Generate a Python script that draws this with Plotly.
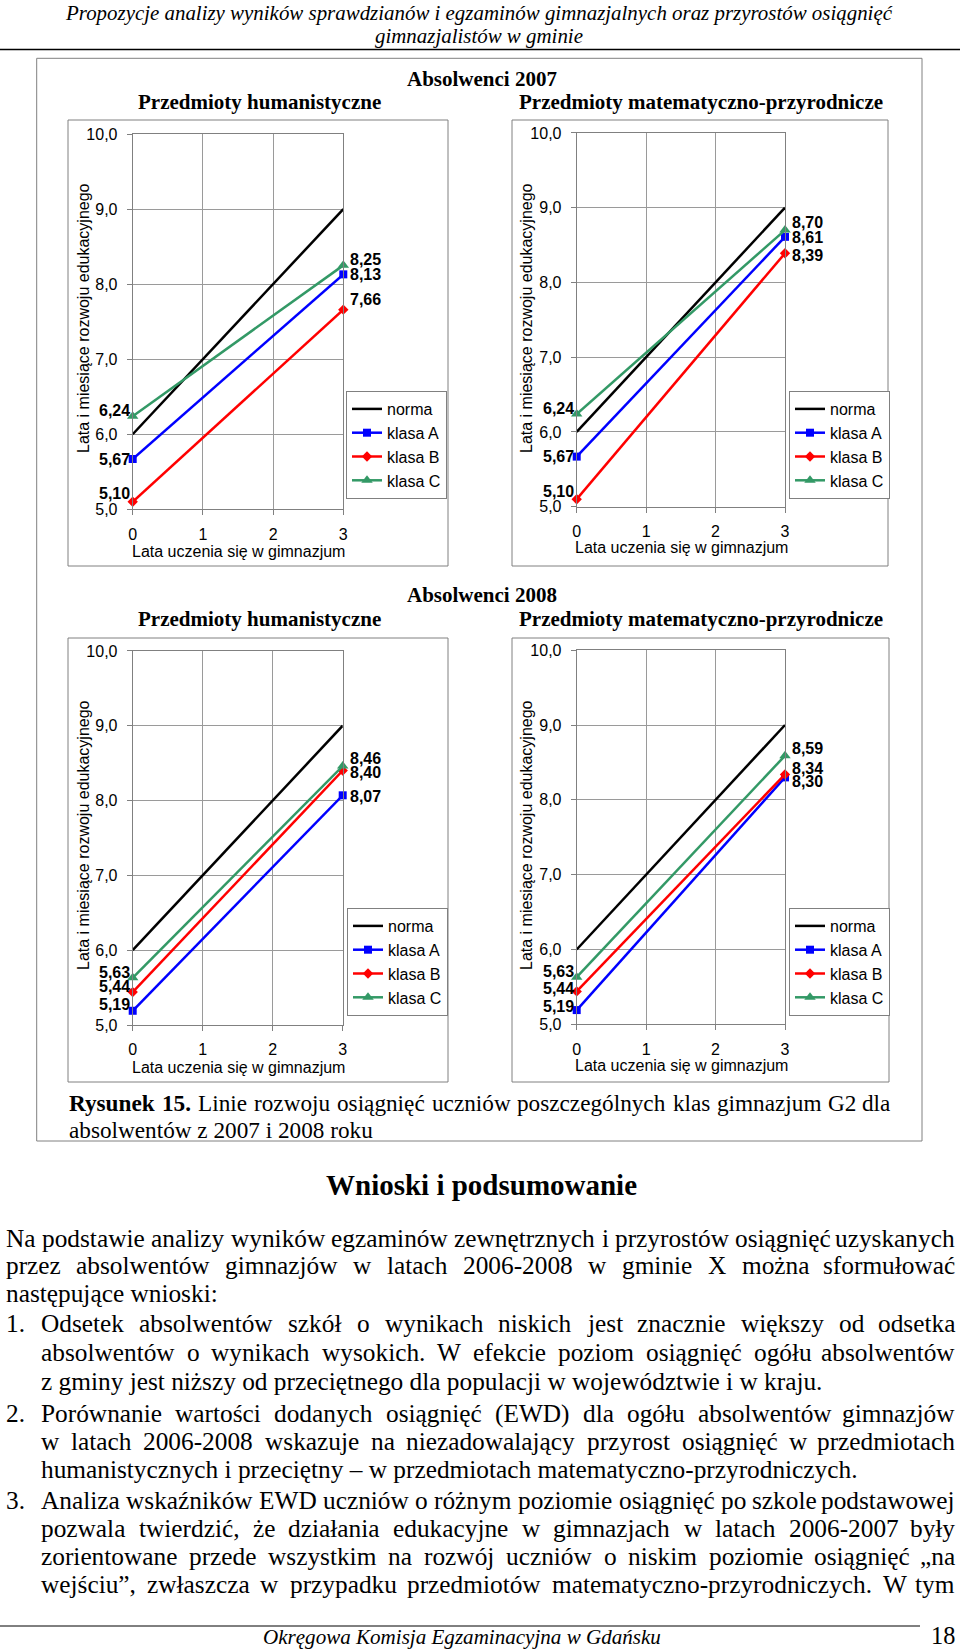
import plotly.graph_objects as go

W, H = 960, 1650
SANS = "Liberation Sans, Arial, sans-serif"
SERIF = "Liberation Serif, Times New Roman, serif"

# ---------------- data ----------------
years = [0, 3]
year_ticks = [0, 1, 2, 3]
series = ["norma", "klasa A", "klasa B", "klasa C"]
norma = [6.0, 9.0]
hum07_A = [5.67, 8.13]
hum07_B = [5.10, 7.66]
hum07_C = [6.24, 8.25]
mat07_A = [5.67, 8.61]
mat07_B = [5.10, 8.39]
mat07_C = [6.24, 8.70]
hum08_A = [5.19, 8.07]
hum08_B = [5.44, 8.40]
hum08_C = [5.63, 8.46]
mat08_A = [5.19, 8.30]
mat08_B = [5.44, 8.34]
mat08_C = [5.63, 8.59]

header_lines = ["Propozycje analizy wyników sprawdzianów i egzaminów gimnazjalnych oraz przyrostów osiągnięć",
                "gimnazjalistów w gminie"]
caption_words = ["Rysunek", "15.", "Linie", "rozwoju", "osiągnięć", "uczniów", "poszczególnych",
                 "klas", "gimnazjum", "G2", "dla"]
caption_line2 = "absolwentów z 2007 i 2008 roku"
body = [
    ("", "Na podstawie analizy wyników egzaminów zewnętrznych i przyrostów osiągnięć uzyskanych", True),
    ("", "przez absolwentów gimnazjów w latach 2006-2008 w gminie X można sformułować", True),
    ("", "następujące wnioski:", False),
    ("1.", "Odsetek absolwentów szkół o wynikach niskich jest znacznie większy od odsetka", True),
    ("", "absolwentów o wynikach wysokich. W efekcie poziom osiągnięć ogółu absolwentów", True),
    ("", "z gminy jest niższy od przeciętnego dla populacji w województwie i w kraju.", False),
    ("2.", "Porównanie wartości dodanych osiągnięć (EWD) dla ogółu absolwentów gimnazjów", True),
    ("", "w latach 2006-2008 wskazuje na niezadowalający przyrost osiągnięć w przedmiotach", True),
    ("", "humanistycznych i przeciętny – w przedmiotach matematyczno-przyrodniczych.", False),
    ("3.", "Analiza wskaźników EWD uczniów o różnym poziomie osiągnięć po szkole podstawowej", True),
    ("", "pozwala twierdzić, że działania edukacyjne w gimnazjach w latach 2006-2007 były", True),
    ("", "zorientowane przede wszystkim na rozwój uczniów o niskim poziomie osiągnięć „na", True),
    ("", "wejściu”, zwłaszcza w przypadku przedmiotów matematyczno-przyrodniczych. W tym", True),
]
body_y = [1238, 1265, 1293, 1323, 1352, 1381, 1413, 1441, 1469, 1500, 1528, 1556, 1584]

# ---------------- font metrics (Times-compatible, 1/1000 em) ----------------
BASE = {'ą': 'a', 'ę': 'e', 'ć': 'c', 'ł': 'l', 'ń': 'n', 'ó': 'o', 'ś': 's', 'ź': 'z', 'ż': 'z',
        'Ą': 'A', 'Ę': 'E', 'Ć': 'C', 'Ł': 'L', 'Ń': 'N', 'Ó': 'O', 'Ś': 'S', 'Ź': 'Z', 'Ż': 'Z'}
TR = dict(zip("abcdefghijklmnopqrstuvwxyz",
              [444, 500, 444, 500, 444, 333, 500, 500, 278, 278, 500, 278, 778, 500, 500, 500, 500, 333, 389, 278, 500, 500, 722, 500, 500, 444]))
TR.update(zip("ABCDEFGHIJKLMNOPQRSTUVWXYZ",
              [722, 667, 667, 722, 611, 556, 722, 722, 333, 389, 722, 611, 889, 722, 722, 556, 722, 667, 556, 611, 722, 722, 944, 722, 722, 611]))
TR.update({' ': 250, '.': 250, ',': 250, ':': 278, '-': 333, '(': 333, ')': 333, '–': 500, '„': 444, '”': 444})
TR.update({d: 500 for d in "0123456789"})
TB = dict(zip("abcdefghijklmnopqrstuvwxyz",
              [500, 556, 444, 556, 444, 333, 500, 556, 278, 333, 556, 278, 833, 556, 500, 556, 556, 444, 389, 333, 556, 500, 722, 500, 500, 444]))
TB.update(zip("ABCDEFGHIJKLMNOPQRSTUVWXYZ",
              [722, 667, 722, 722, 667, 611, 778, 778, 389, 500, 778, 667, 944, 722, 778, 611, 778, 722, 556, 667, 722, 722, 1000, 722, 722, 667]))
TB.update({' ': 250, '.': 250, ',': 250, '-': 333})
TB.update({d: 500 for d in "0123456789"})
TI = dict(zip("abcdefghijklmnopqrstuvwxyz",
              [500, 500, 444, 500, 444, 278, 500, 500, 278, 278, 444, 278, 722, 500, 500, 500, 500, 389, 389, 278, 500, 444, 667, 444, 444, 389]))
TI.update(zip("ABCDEFGHIJKLMNOPQRSTUVWXYZ",
              [611, 611, 667, 722, 611, 611, 722, 722, 333, 444, 667, 556, 833, 667, 722, 611, 722, 611, 500, 556, 722, 611, 833, 611, 556, 556]))
TI.update({' ': 250, '.': 250, ',': 250, '-': 333})


def em(s, table):
    return sum(table.get(BASE.get(c, c), 500) for c in s) / 1000.0


def X(px):
    return px / W


def Y(py):
    return 1 - py / H


anns = []


def text(x, y, s, size, family=SERIF, xanchor="center", angle=0, yanchor="middle"):
    anns.append(dict(x=X(x), y=Y(y), xref="paper", yref="paper", text=s, showarrow=False,
                     xanchor=xanchor, yanchor=yanchor, textangle=angle, borderpad=0,
                     font=dict(family=family, size=size, color="black")))


def justify(words, tables, x0, x1, y, size, bold=None):
    widths = [em(w, t) * size for w, t in zip(words, tables)]
    gap = (x1 - x0 - sum(widths)) / (len(words) - 1)
    x = x0
    for i, w in enumerate(words):
        s = w if not (bold and bold[i]) else "<b>" + w + "</b>"
        if i == len(words) - 1:
            text(x1, y, s, size, xanchor="right")
        else:
            text(x, y, s, size, xanchor="left")
        x += widths[i] + gap


# ---------------- figure ----------------
fig = go.Figure()
styles = {
    "norma": dict(color="#000000", symbol=None, size=0),
    "klasa A": dict(color="#0000FF", symbol="square", size=8),
    "klasa B": dict(color="#FF0000", symbol="diamond", size=8),
    "klasa C": dict(color="#339966", symbol="triangle-up", size=10),
}

panels = [
    dict(data=[norma, hum07_A, hum07_B, hum07_C], px=(132.7, 343.3), py=(134.0, 509.3),
         box=(68, 120, 448, 566), legend=(346, 391), ytitle=(83, 318), xtitle=(238, 552),
         dl=([0, 8.5, 6], [0, 10, 6])),
    dict(data=[norma, mat07_A, mat07_B, mat07_C], px=(576.7, 785.0), py=(132.9, 506.7),
         box=(512, 120, 888, 566), legend=(789, 391), ytitle=(526, 318), xtitle=(681, 548),
         dl=([0, 7.5, 6], [-1, -2, 7.5])),
    dict(data=[norma, hum08_A, hum08_B, hum08_C], px=(132.7, 342.7), py=(650.9, 1025.0),
         box=(68, 638, 448, 1082), legend=(347, 908), ytitle=(83, 835), xtitle=(238, 1067),
         dl=([6, 5.4, 5], [-1, -2, 8])),
    dict(data=[norma, mat08_A, mat08_B, mat08_C], px=(576.7, 785.0), py=(650.2, 1024.3),
         box=(512, 638, 889, 1082), legend=(789, 908), ytitle=(526, 835), xtitle=(681, 1065),
         dl=([3.5, 3, 5.5], [-4, 6, 7.5])),
]

shapes = []
layout = {}
for k, p in enumerate(panels, start=1):
    sfx = "" if k == 1 else str(k)
    lg = "legend" + sfx
    for name, vals in zip(series, p["data"]):
        st = styles[name]
        fig.add_trace(go.Scatter(
            x=years, y=vals, name=name, mode="lines" if name == "norma" else "lines+markers",
            line=dict(color=st["color"], width=2.5),
            marker=dict(symbol=st["symbol"] or "circle", size=st["size"], color=st["color"]),
            xaxis="x" + sfx, yaxis="y" + sfx, legend=lg, legendgroup=f"{k}{name}",
            cliponaxis=False, hoverinfo="skip"))
    common = dict(showgrid=True, gridcolor="#9a9a9a", gridwidth=1, showline=True, mirror=True,
                  linecolor="#808080", linewidth=1, ticks="outside", ticklen=5, tickcolor="#808080",
                  tickfont=dict(family=SANS, size=16, color="black"), zeroline=False, fixedrange=True,
                  automargin=False)
    layout["xaxis" + sfx] = dict(common, domain=[X(p["px"][0]), X(p["px"][1])], range=[0, 3],
                                 tickvals=year_ticks, anchor="y" + sfx, ticklabelstandoff=5)
    layout["yaxis" + sfx] = dict(common, domain=[Y(p["py"][1]), Y(p["py"][0])], range=[5, 10],
                                 tick0=5, dtick=1, tickformat=".1f", anchor="x" + sfx,
                                 ticklabelstandoff=6)
    layout[lg] = dict(x=X(p["legend"][0]), y=Y(p["legend"][1]), xanchor="left", yanchor="top",
                      bgcolor="white", bordercolor="#808080", borderwidth=1, tracegroupgap=2,
                      itemwidth=30, font=dict(family=SANS, size=16, color="black"),
                      traceorder="normal")
    bx = p["box"]
    shapes.append(dict(type="rect", xref="paper", yref="paper", x0=X(bx[0]), x1=X(bx[2]),
                       y0=Y(bx[3]), y1=Y(bx[1]), line=dict(color="#808080", width=1)))
    # data labels
    for j, vals in enumerate(p["data"][1:]):
        for side, xi, anchor, xs in ((0, 0, "right", -2), (1, 1, "left", 6)):
            anns.append(dict(x=years[xi], y=vals[xi], xref="x" + sfx, yref="y" + sfx,
                             text="<b>" + f"{vals[xi]:.2f}".replace(".", ",") + "</b>",
                             showarrow=False, xanchor=anchor, yanchor="middle", xshift=xs,
                             yshift=p["dl"][side][j], borderpad=0,
                             font=dict(family=SANS, size=16, color="black")))
    text(p["ytitle"][0], p["ytitle"][1], "Lata i miesiące rozwoju edukacyjnego", 16, SANS, angle=-90)
    text(p["xtitle"][0], p["xtitle"][1], "Lata uczenia się w gimnazjum", 16, SANS)

# page frame
shapes.append(dict(type="line", xref="paper", yref="paper", x0=0, x1=1, y0=Y(49.5), y1=Y(49.5),
                   line=dict(color="black", width=1.5)))
shapes.append(dict(type="rect", xref="paper", yref="paper", x0=X(36.7), x1=X(922), y0=Y(1141),
                   y1=Y(58.3), line=dict(color="#808080", width=1)))
shapes.append(dict(type="line", xref="paper", yref="paper", x0=0, x1=X(920), y0=Y(1626), y1=Y(1626),
                   line=dict(color="black", width=1)))

# header / footer
fs_head = 828 / em(header_lines[0], TI)
text(479, 13, "<i>" + header_lines[0] + "</i>", fs_head)
text(479, 36, "<i>" + header_lines[1] + "</i>", fs_head)
fs_foot = 398 / em("Okręgowa Komisja Egzaminacyjna w Gdańsku", TI)
text(462, 1637, "<i>Okręgowa Komisja Egzaminacyjna w Gdańsku</i>", fs_foot)

# section titles
text(481.5, 79, "<b>Absolwenci 2007</b>", 21)
text(259, 102, "<b>Przedmioty humanistyczne</b>", 21)
text(701, 102, "<b>Przedmioty matematyczno-przyrodnicze</b>", 21)
text(481.5, 595, "<b>Absolwenci 2008</b>", 21)
text(259, 619, "<b>Przedmioty humanistyczne</b>", 21)
text(701, 619, "<b>Przedmioty matematyczno-przyrodnicze</b>", 21)

# body font size from the tightest justified line
X0, XI, X1 = 5, 40, 956
fs_body = 1e9
for i, (num, line, just) in enumerate(body):
    x0 = X0 if i < 3 else XI
    if just:
        ws = line.split(" ")
        need = sum(em(w, TR) for w in ws) + 0.25 * (len(ws) - 1)
        fs_body = min(fs_body, (X1 - x0) / need)

# caption
cap_tables = [TB, TB] + [TR] * (len(caption_words) - 2)
cap_need = sum(em(w, t) for w, t in zip(caption_words, cap_tables)) + 0.25 * (len(caption_words) - 1)
fs_cap = min((891 - 68) / cap_need, fs_body * 11 / 12)
justify(caption_words, cap_tables, 68, 891, 1103, fs_cap, bold=[True, True] + [False] * 9)
text(68, 1130, caption_line2, fs_cap, xanchor="left")

text(481, 1185, "<b>Wnioski i podsumowanie</b>", 29)

for i, ((num, line, just), y) in enumerate(zip(body, body_y)):
    x0 = X0 if i < 3 else XI
    if num:
        text(X0, y, num, fs_body, xanchor="left")
    if just:
        ws = line.split(" ")
        justify(ws, [TR] * len(ws), x0, X1, y, fs_body)
    else:
        text(x0, y, line, fs_body, xanchor="left")

text(956, 1635, "18", fs_body * 0.96, xanchor="right")

fig.update_layout(template="none", width=W, height=H,
                  margin=dict(l=0, r=0, t=0, b=0, pad=0, autoexpand=False),
                  paper_bgcolor="white", plot_bgcolor="white", separators=", ", showlegend=True,
                  shapes=shapes, annotations=anns, **layout)
fig.write_html("out.html", config={"displayModeBar": False, "staticPlot": False},
               post_script="document.body.style.margin='0';document.body.style.overflow='hidden';")
